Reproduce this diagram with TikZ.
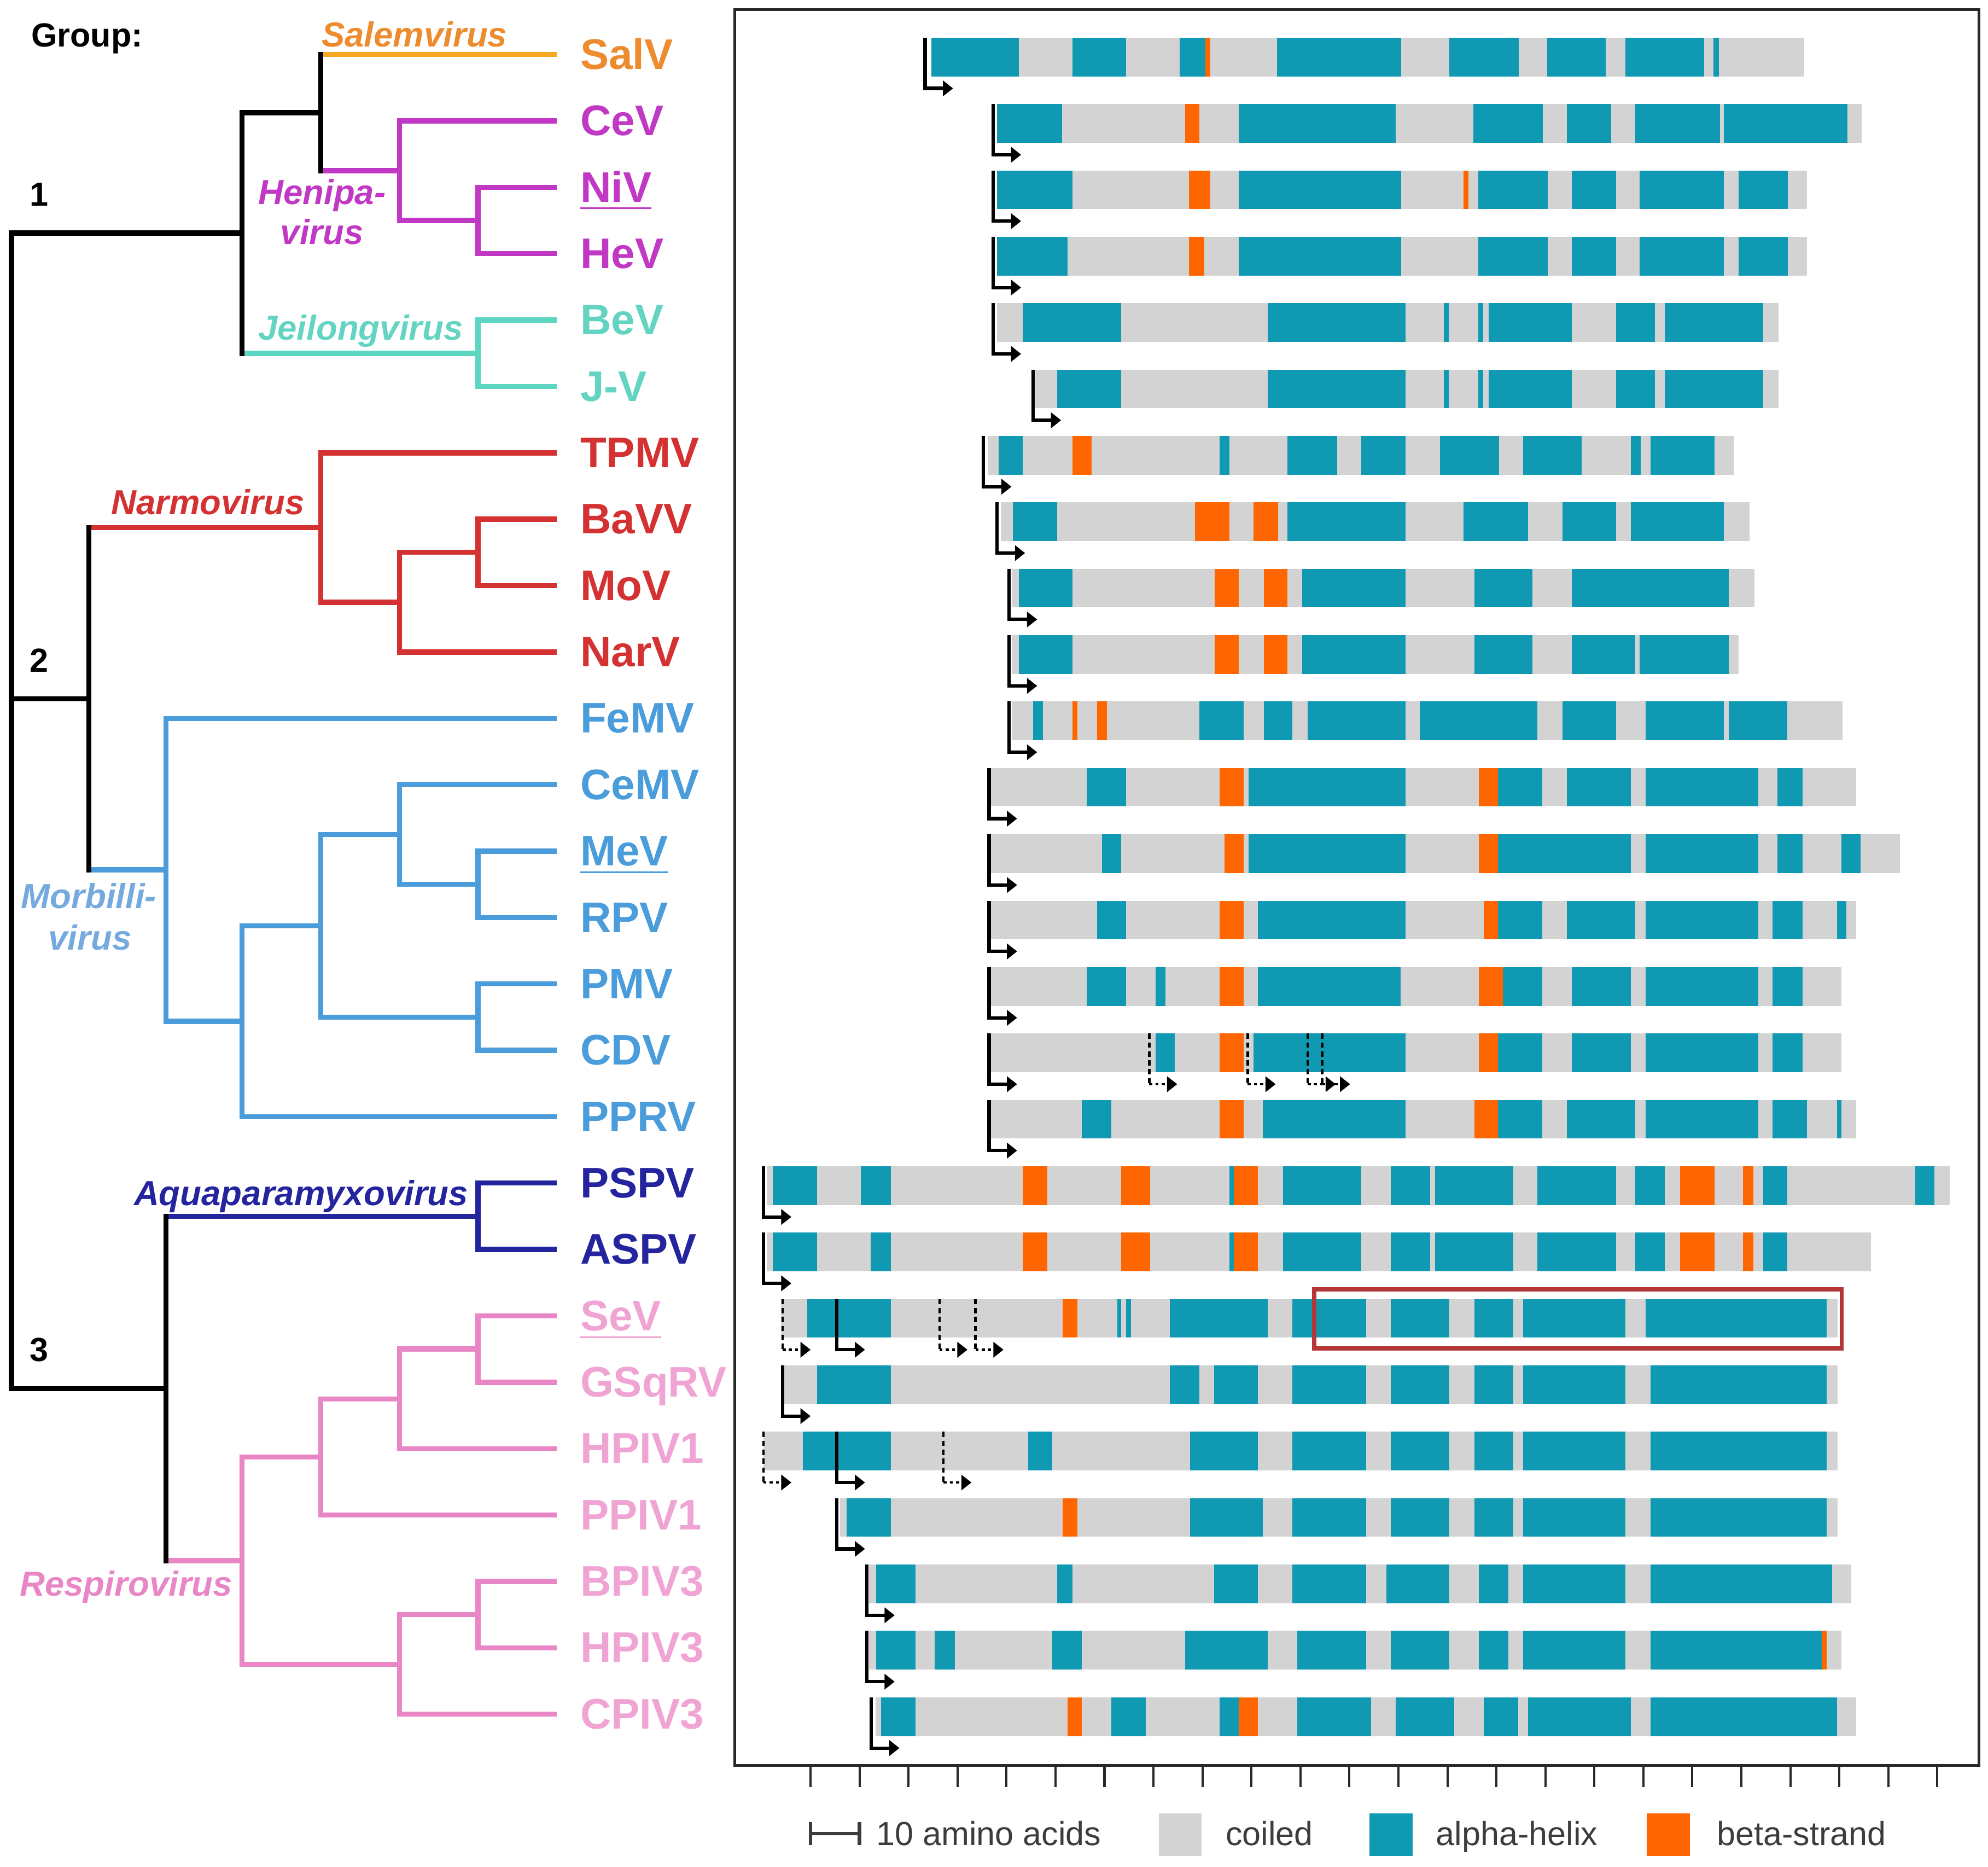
\documentclass[tikz,border=0pt]{standalone}
\usepackage{fontspec}
\setmainfont{Liberation Sans}
\usetikzlibrary{arrows.meta}
\definecolor{coil}{RGB}{211,211,211}
\definecolor{hx}{RGB}{16,153,178}
\definecolor{bt}{RGB}{255,102,0}
\definecolor{salL}{RGB}{245,168,32}
\definecolor{salT}{RGB}{236,140,46}
\definecolor{henC}{RGB}{192,56,196}
\definecolor{jeiL}{RGB}{92,214,192}
\definecolor{jeiT}{RGB}{100,212,194}
\definecolor{narC}{RGB}{212,50,50}
\definecolor{morC}{RGB}{74,156,218}
\definecolor{morT}{RGB}{116,170,222}
\definecolor{aquC}{RGB}{36,36,158}
\definecolor{resL}{RGB}{232,134,198}
\definecolor{resT}{RGB}{240,164,212}
\definecolor{boxred}{RGB}{180,54,54}
\definecolor{legtext}{RGB}{60,60,60}
\definecolor{framegray}{RGB}{40,40,40}
\newcommand\fork[6][]{\draw[tk,#1] (#5,#3) -| (#2,#4) -- (#6,#4);}
\newcommand\seqrow[5]{%
  \pgfmathsetmacro\yt{29.7+52.35*#1}%
  \pgfmathsetmacro\yb{\yt+30.5}%
  \pgfmathsetmacro\ya{\yt+40}%
  \fill[coil] (#3,\yt) rectangle (#4,\yb);
  \foreach \c/\a/\b in {#5}{\fill[\c] (\a,\yt) rectangle (\b,\yb);}
  \draw[startarrow] (#2,\yt) -- (#2,\ya) -- ++(35,0);
}
\newcommand\altstart[2]{%
  \pgfmathsetmacro\yt{29.7+52.35*#1}%
  \pgfmathsetmacro\ya{\yt+40}%
  \draw[altarrow,dash pattern=on 1.2pt off 0.8pt] (#2,\yt) -- (#2,\ya);
  \draw[altarrow,dash pattern=on 0.7pt off 0.7pt,-{Triangle[length=0.8mm,width=1.2mm]}] (#2,\ya) -- ++(35,0);
}
\begin{document}
\begin{tikzpicture}[x=0.1mm,y=-0.1mm,
  tk/.style={line width=1.15pt,line join=miter,line cap=rect},
  lab/.style={anchor=base west,inner sep=0pt,font=\fontsize{9.6}{10}\selectfont\bfseries},
  genus/.style={inner sep=0pt,font=\fontsize{7.8}{8}\selectfont\bfseries\itshape},
  grp/.style={inner sep=0pt,font=\fontsize{7.5}{8}\selectfont\bfseries},
  legt/.style={anchor=base west,inner sep=0pt,text=legtext,font=\fontsize{7.5}{8}\selectfont},
  startarrow/.style={line width=0.75pt,-{Triangle[length=0.8mm,width=1.2mm]}},
  altarrow/.style={line width=0.55pt}]
\useasboundingbox (0,0) rectangle (1568,1472);

% ---------------- tree ----------------
% Group 1
\draw[tk,salL] (253,43) -- (437,43);
\draw[tk,henC] (253,134.6) -- (315,134.6);
\fork[henC]{315}{95.35}{173.9}{437}{377}
\fork[henC]{377}{147.7}{200.05}{437}{437}
\draw[tk,jeiL] (191,278.6) -- (377,278.6);
\fork[jeiL]{377}{252.4}{304.75}{437}{437}
% Group 2
\draw[tk,narC] (70,416) -- (253,416);
\fork[narC]{253}{357.1}{474.9}{437}{315}
\fork[narC]{315}{435.6}{514.15}{377}{437}
\fork[narC]{377}{409.45}{461.8}{437}{437}
\draw[tk,morC] (70,685.9) -- (131,685.9);
\fork[morC]{131}{566.5}{805.3}{437}{191}
\fork[morC]{191}{730.1}{880.6}{253}{437}
\fork[morC]{253}{658.1}{802.1}{315}{377}
\fork[morC]{315}{618.85}{697.4}{437}{377}
\fork[morC]{377}{671.2}{723.55}{437}{437}
\fork[morC]{377}{775.9}{828.25}{437}{437}
% Group 3
\draw[tk,aquC] (131,959.1) -- (377,959.1);
\fork[aquC]{377}{932.95}{985.3}{437}{437}
\draw[tk,resL] (131,1230.7) -- (191,1230.7);
\fork[resL]{191}{1148.9}{1312.5}{253}{315}
\fork[resL]{253}{1103.1}{1194.7}{315}{437}
\fork[resL]{315}{1063.8}{1142.35}{377}{437}
\fork[resL]{377}{1037.65}{1090}{437}{437}
\fork[resL]{315}{1273.2}{1351.75}{377}{437}
\fork[resL]{377}{1247.05}{1299.4}{437}{437}
% black backbone
\draw[tk,black] (191,183.7) -| (9,551) -- (70,551);
\draw[tk,black] (9,551) |- (131,1094.9);
\draw[tk,black] (253,43) |- (253,134.6);
\draw[tk,black] (253,88.8) -| (191,278.6);
\draw[tk,black] (70,416) -- (70,685.9);
\draw[tk,black] (131,959.1) -- (131,1230.7);

% group labels
\node[grp,anchor=base west] (grouptitle) at (24,37) {Group:};
\node[grp,anchor=base] (g1) at (31,162.3) {1};
\node[grp,anchor=base] (g2) at (31,529.8) {2};
\node[grp,anchor=base] (g3) at (31,1073.3) {3};

% genus labels
\node[genus,text=salT,anchor=base west] (salem) at (253,37) {Salemvirus};
\node[genus,text=henC,anchor=base] (henipa1) at (254,161) {Henipa-};
\node[genus,text=henC,anchor=base] (henipa2) at (254,192.6) {virus};
\node[genus,text=jeiT,anchor=base west] (jeilong) at (203,268) {Jeilongvirus};
\node[genus,text=narC,anchor=base west] (narmo) at (87,405.8) {Narmovirus};
\node[genus,text=morT,anchor=base] (morbi1) at (70,716.2) {Morbilli-};
\node[genus,text=morT,anchor=base] (morbi2) at (71,748.9) {virus};
\node[genus,text=aquC,anchor=base west] (aqua) at (105,950.7) {Aquaparamyxovirus};
\node[genus,text=resL,anchor=base west] (respiro) at (15,1258.6) {Respirovirus};

% virus labels
\foreach \i/\t/\c in {0/SalV/salT,1/CeV/henC,2/\underline{NiV}/henC,3/HeV/henC,
  4/BeV/jeiT,5/J-V/jeiT,6/TPMV/narC,7/BaVV/narC,8/MoV/narC,9/NarV/narC,
  10/FeMV/morC,11/CeMV/morC,12/\underline{MeV}/morC,13/RPV/morC,14/PMV/morC,
  15/CDV/morC,16/PPRV/morC,17/PSPV/aquC,18/ASPV/aquC,19/\underline{SeV}/resT,
  20/GSqRV/resT,21/HPIV1/resT,22/PPIV1/resT,23/BPIV3/resT,24/HPIV3/resT,25/CPIV3/resT}{
  \node[lab,text=\c] (lab\i) at (457,{43+52.35*\i+11.5}) {\t};
}

% ---------------- bars ----------------
\begin{scope}[xshift=57.81mm,x=0.06314mm]
\seqrow{0}{240}{248}{1338}{hx/248/357, hx/424/491, hx/558/590, bt/590/596, hx/680/835, hx/895/982, hx/1017/1090, hx/1115/1213, hx/1225/1232}
\seqrow{1}{325}{330}{1410}{hx/330/411, bt/565/583, hx/632/828, hx/925/1012, hx/1042/1097, hx/1127/1233, hx/1238/1392}
\seqrow{2}{325}{330}{1342}{hx/330/424, bt/570/596, hx/632/835, bt/913/919, hx/931/1018, hx/1048/1103, hx/1133/1238, hx/1256/1318}
\seqrow{3}{325}{330}{1342}{hx/330/418, bt/570/589, hx/632/835, hx/931/1018, hx/1048/1103, hx/1133/1238, hx/1256/1318}
\seqrow{4}{325}{330}{1306}{hx/362/485, hx/668/840, hx/888/894, hx/931/937, hx/944/1048, hx/1103/1152, hx/1164/1287}
\seqrow{5}{375}{378}{1306}{hx/405/485, hx/668/840, hx/888/894, hx/931/937, hx/944/1048, hx/1103/1152, hx/1164/1287}
\seqrow{6}{313}{318}{1250}{hx/332/362, bt/424/448, hx/608/620, hx/693/755, hx/785/840, hx/883/957, hx/987/1060, hx/1122/1134, hx/1146/1226}
\seqrow{7}{330}{335}{1270}{hx/350/405, bt/577/620, bt/650/681, hx/693/840, hx/913/993, hx/1036/1103, hx/1122/1238}
\seqrow{8}{345}{348}{1276}{hx/357/424, bt/602/632, bt/663/693, hx/711/840, hx/926/999, hx/1048/1244}
\seqrow{9}{345}{348}{1256}{hx/357/424, bt/602/632, bt/663/693, hx/711/840, hx/926/999, hx/1048/1127, hx/1133/1244}
\seqrow{10}{345}{348}{1386}{hx/375/387, bt/424/430, bt/455/467, hx/583/638, hx/663/699, hx/718/840, hx/858/1005, hx/1036/1103, hx/1140/1238, hx/1244/1317}
\seqrow{11}{320}{322}{1403}{hx/442/491, bt/608/638, hx/644/840, bt/932/956, hx/956/1011, hx/1042/1122, hx/1140/1281, hx/1305/1336}
\seqrow{12}{320}{322}{1458}{hx/461/485, bt/614/638, hx/644/840, bt/932/956, hx/956/1122, hx/1140/1281, hx/1305/1336, hx/1385/1409}
\seqrow{13}{320}{322}{1403}{hx/455/491, bt/608/638, hx/656/840, bt/938/956, hx/956/1011, hx/1042/1127, hx/1140/1281, hx/1299/1336, hx/1379/1391}
\seqrow{14}{320}{322}{1385}{hx/442/491, hx/528/540, bt/608/638, hx/656/834, bt/932/962, hx/962/1011, hx/1048/1122, hx/1140/1281, hx/1299/1336}
\seqrow{15}{320}{322}{1385}{hx/528/552, bt/608/638, hx/650/840, bt/932/956, hx/956/1011, hx/1048/1122, hx/1140/1281, hx/1299/1336}
\seqrow{16}{320}{322}{1403}{hx/436/473, bt/608/638, hx/662/840, bt/926/956, hx/956/1011, hx/1042/1127, hx/1140/1281, hx/1299/1342, hx/1379/1385}
\seqrow{17}{38}{42}{1520}{hx/50/105, hx/160/197, bt/362/393, bt/485/521, hx/620/626, bt/626/656, hx/687/785, hx/822/871, hx/877/975, hx/1005/1103, hx/1127/1164, bt/1183/1226, bt/1262/1275, hx/1287/1317, hx/1477/1501}
\seqrow{18}{38}{42}{1422}{hx/50/105, hx/172/197, bt/362/393, bt/485/521, hx/620/626, bt/626/656, hx/687/785, hx/822/871, hx/877/975, hx/1005/1103, hx/1127/1164, bt/1183/1226, bt/1262/1275, hx/1287/1317}
\seqrow{19}{130}{60}{1380}{hx/93/197, bt/412/430, hx/480/485, hx/491/497, hx/546/668, hx/699/791, hx/822/895, hx/926/975, hx/987/1115, hx/1140/1366}
\seqrow{20}{62}{62}{1380}{hx/105/197, hx/546/583, hx/601/656, hx/699/791, hx/822/895, hx/926/975, hx/987/1115, hx/1146/1366}
\seqrow{21}{130}{38}{1380}{hx/87/197, hx/369/399, hx/571/656, hx/699/791, hx/822/895, hx/926/975, hx/987/1115, hx/1146/1366}
\seqrow{22}{130}{134}{1380}{hx/142/197, bt/412/430, hx/571/662, hx/699/791, hx/822/895, hx/926/975, hx/987/1115, hx/1146/1366}
\seqrow{23}{167}{170}{1397}{hx/179/228, hx/405/424, hx/601/656, hx/699/791, hx/816/895, hx/932/969, hx/987/1115, hx/1146/1373}
\seqrow{24}{167}{170}{1385}{hx/179/228, hx/252/277, hx/399/436, hx/565/668, hx/705/791, hx/822/895, hx/932/969, hx/987/1115, hx/1146/1360, bt/1360/1366}
\seqrow{25}{173}{178}{1403}{hx/185/228, bt/418/436, hx/473/516, hx/608/632, bt/632/656, hx/705/797, hx/828/901, hx/938/981, hx/993/1122, hx/1146/1379}
% alternative start sites
\altstart{15}{520}\altstart{15}{643}\altstart{15}{718}\altstart{15}{736}
\altstart{19}{62}\altstart{19}{258}\altstart{19}{303}
\altstart{21}{38}\altstart{21}{263}
\end{scope}

% highlight box
\draw[boxred,line width=0.9pt] (1036.5,1016.7) rectangle (1452.6,1063.3);

% frame and ticks
\draw[framegray,line width=0.6pt] (579.4,7.7) rectangle (1561,1392.4);
\foreach \k in {0,...,23}{\draw[framegray,line width=0.5pt] ({639.3+38.64*\k},1392.4) -- ++(0,17);}

% legend
\draw[legtext,line width=0.8pt] (639.3,1446) -- (677.9,1446);
\draw[legtext,line width=0.8pt] (639.3,1437) -- (639.3,1455);
\draw[legtext,line width=0.8pt] (677.9,1437) -- (677.9,1455);
\node[legt] (legscale) at (690.5,1455) {10 amino acids};
\fill[coil] (914,1430) rectangle (947.5,1463.5);
\node[legt] (legcoil) at (966,1455) {coiled};
\fill[hx] (1080,1430) rectangle (1114,1463.5);
\node[legt] (leghelix) at (1132,1455) {alpha-helix};
\fill[bt] (1299,1430) rectangle (1333,1463.5);
\node[legt] (legbeta) at (1353.5,1455) {beta-strand};
\end{tikzpicture}
\end{document}
